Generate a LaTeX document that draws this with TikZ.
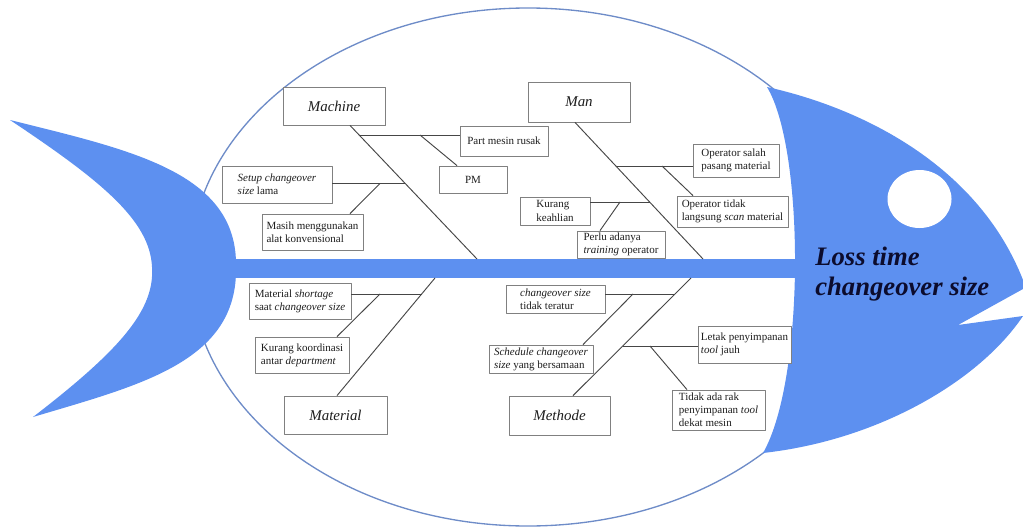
\documentclass[tikz,border=0pt]{standalone}
\usepackage{fontspec}
\setmainfont{Liberation Serif}
\usetikzlibrary{calc,shadows}
\definecolor{fishblue}{RGB}{93,144,240}
\definecolor{rimblue}{RGB}{110,140,200}
\definecolor{boxgray}{RGB}{128,128,128}
\definecolor{bonegray}{RGB}{70,70,70}
\definecolor{navy}{RGB}{12,12,45}
\definecolor{txt}{RGB}{30,30,30}
\tikzset{
  box/.style 2 args={minimum width=#1*0.75pt, minimum height=#2*0.75pt},
  boxshadow/.style={drop shadow={shadow xshift=0.8pt, shadow yshift=-0.8pt, fill=black!45, opacity=0.6}},
  cause/.style={draw=boxgray, line width=0.6pt, fill=white, boxshadow, inner sep=0pt, align=left, text=txt, font=\fontsize{8.25}{9.9}\selectfont},
  category/.style={draw=boxgray, line width=0.6pt, fill=white, boxshadow, inner sep=0pt, text=txt, font=\fontsize{11.2}{13}\selectfont\itshape},
  bone/.style={draw=bonegray, line width=0.7pt},
}
\begin{document}
\begin{tikzpicture}[x=0.75pt,y=-0.75pt,line join=round]
\useasboundingbox (0,0) rectangle (1023,528);
% body
\filldraw[fill=white, draw=rimblue, line width=1pt] (528,267) ellipse [x radius=253.5pt, y radius=194.25pt];
% tail
\fill[fishblue] (10,120) .. controls (130,150) and (238,172) .. (236,267) .. controls (238,362) and (140,385) .. (33,417) .. controls (120,350) and (155,310) .. (152,267) .. controls (150,220) and (100,180) .. (10,120) -- cycle;
% head
\fill[fishblue] (767,87) .. controls (870,110) and (980,170) .. (1023,280) -- (1023,289) -- (958,325) -- (1023,316) .. controls (980,380) and (880,440) .. (763,453) .. controls (805,380) and (805,150) .. (767,87) -- cycle;
% spine
\fill[fishblue] (225,259) rectangle (800,278);
% eye
\fill[white] (919.5,199) ellipse [x radius=24pt, y radius=21.75pt];

% categories
\node[category, box={102}{38}] (machine) at (334,106) {Machine};
\node[category, box={102}{40}] (man) at (579,102) {Man};
\node[category, box={103}{38}] (material) at (335.5,415) {Material};
\node[category, box={101}{39}] (methode) at (559.5,415.5) {Methode};

% causes
\node[cause, box={88}{30}] (part) at (504,141) {Part mesin rusak};
\node[cause, box={68}{27}, align=center] (pm) at (473,179.5) {PM};
\node[cause, box={110}{37}] (setup) at (277,184.5) {\textit{Setup changeover}\\\textit{size} lama};
\node[cause, box={101}{36}] (masih) at (312.5,232) {Masih menggunakan\\alat konvensional};
\node[cause, box={86}{33}] (opsal) at (736,160.5) {Operator salah\\pasang material};
\node[cause, box={111}{31}] (optidak) at (732.5,211.5) {Operator tidak\\langsung \textit{scan} material};
\node[cause, box={70}{28}] (kurang) at (555,211) {Kurang\\keahlian};
\node[cause, box={88}{27}] (perlu) at (621,244.5) {Perlu adanya\\\textit{training} operator};
\node[cause, box={102}{36}] (shortage) at (300,301) {Material \textit{shortage}\\saat \textit{changeover size}};
\node[cause, box={94}{36}] (koord) at (302,355) {Kurang koordinasi\\antar \textit{department}};
\node[cause, box={99}{28}] (teratur) at (555.5,299) {\textit{changeover size}\\tidak teratur};
\node[cause, box={104}{28}] (sched) at (541,359) {\textit{Schedule changeover}\\\textit{size} yang bersamaan};
\node[cause, box={93}{37}] (letak) at (744.5,344.5) {Letak penyimpanan\\\textit{tool} jauh};
\node[cause, box={93}{40}] (rak) at (718.5,410) {Tidak ada rak\\penyimpanan \textit{tool}\\dekat mesin};

% junction coordinates
\coordinate (mcJ) at (477,259);
\coordinate (mnJ) at (703,259);
\coordinate (maJ) at (435,278);
\coordinate (meJ) at (691,278);
\coordinate (m1) at (359.5,135);
\coordinate (m1p) at (420,135);
\coordinate (m2) at (405,183.5);
\coordinate (m2p) at (380,183.5);
\coordinate (n1) at (616,166);
\coordinate (n1p) at (662,166);
\coordinate (n2) at (650,202);
\coordinate (n2p) at (620,202);
\coordinate (a1) at (421.7,294);
\coordinate (a1p) at (380,294);
\coordinate (e1) at (675,294);
\coordinate (e1p) at (633,294);
\coordinate (e2) at (623,346);
\coordinate (e2p) at (650,346);

% main bones
\draw[bone] ($(machine.south)+(16,0)$) -- (mcJ);
\draw[bone] ($(man.south)+(-4,0)$) -- (mnJ);
\draw[bone] ($(material.north)+(1.5,0)$) -- (maJ);
\draw[bone] ($(methode.north)+(13.5,0)$) -- (meJ);

% sub bones
\draw[bone] (m1) -- (m1 -| part.west);
\draw[bone] (m1p) -- ($(pm.north)+(-16,0)$);
\draw[bone] (setup.east |- m2) -- (m2);
\draw[bone] (m2p) -- ($(masih.north)+(37.5,0)$);
\draw[bone] (n1) -- (n1 -| opsal.west);
\draw[bone] (n1p) -- ($(optidak.north)+(-39.5,0)$);
\draw[bone] (kurang.east |- n2) -- (n2);
\draw[bone] (n2p) -- ($(perlu.north)+(-21,0)$);
\draw[bone] (shortage.east |- a1) -- (a1);
\draw[bone] (a1p) -- ($(koord.north)+(35,0)$);
\draw[bone] (teratur.east |- e1) -- (e1);
\draw[bone] (e1p) -- ($(sched.north)+(42,0)$);
\draw[bone] (e2) -- (e2 -| letak.west);
\draw[bone] (e2p) -- ($(rak.north)+(-31.5,0)$);

% title
\node[anchor=north west, inner sep=0pt, align=left, text=navy, font=\fontsize{20}{22.5}\selectfont\bfseries\itshape] (title) at (815,247) {Loss time\\changeover size};
\end{tikzpicture}
\end{document}
